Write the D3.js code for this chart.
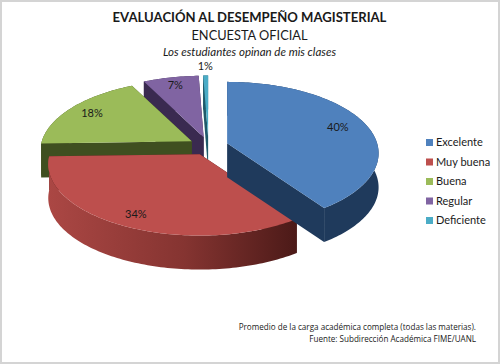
<!DOCTYPE html>
<html lang="en">
    <head>
        <meta charset="utf-8"/>
        <script src="https://d3js.org/d3.v7.min.js"></script>
        <style>
            body { margin: 0; background: #fff; }
            text { font-family: Lato, "Open Sans", sans-serif; fill: #1a1a1a; }
        </style>
    </head>
    <body>
        <div id="chart"></div>
    </body>
    <script>
        var categories = ["Excelente", "Muy buena", "Buena", "Regular", "Deficiente"];
        // the labels round them to 40, 34, 18, 7 and 1
        var values = [40.3, 34.2, 18.1, 6.8, 0.6];
        var topColors = ["#4f81bd", "#bd4f4d", "#9bbb59", "#8064a2", "#4bacc6"];
        var wallColors = ["#1f3a5c", "#6e2a28", "#3f4f20", "#3a2a50", "#1f5a6a"];
        var labelRadius = [0.8, 0.85, 0.82, 0.85, 1.17];

        var width = 500, height = 364;

        // pie geometry, with a bit of perspective so the front is bigger than the back
        var cx = 208.5, cy = 146, rx = 150, ry = 70, persp = 0.14, depth = 34, explode = 0.13;

        var svg = d3.select("#chart").append("svg")
            .attr("width", width)
            .attr("height", height);

        svg.append("rect")
            .attr("x", 1).attr("y", 1)
            .attr("width", width - 2).attr("height", height - 2)
            .attr("fill", "#fff")
            .attr("stroke", "#d4d4d4")
            .attr("stroke-width", 2);

        var color = d3.scaleOrdinal().domain(categories).range(topColors);
        var wall = d3.scaleOrdinal().domain(categories).range(wallColors);

        var slices = d3.pie().sort(null).value(function(d, i) { return values[i]; })(categories);

        function project(angle, r, ox, oy) {
            var u = Math.sin(angle) * r, v = -Math.cos(angle) * r;
            var s = 1 / (1 - persp * v);
            return [ox + rx * u * s, oy + ry * v * s];
        }

        function origin(d) {
            var mid = (d.startAngle + d.endAngle) / 2;
            return [cx + rx * explode * Math.sin(mid), cy - ry * explode * Math.cos(mid)];
        }

        function rim(d) {
            var o = origin(d);
            var n = Math.max(4, Math.ceil((d.endAngle - d.startAngle) / 0.02));
            return d3.range(n + 1).map(function(k) {
                return project(d.startAngle + (d.endAngle - d.startAngle) * k / n, 1, o[0], o[1]);
            });
        }

        function down(p) { return [p[0], p[1] + depth]; }

        var line = d3.line().curve(d3.curveLinear);
        var defs = svg.append("defs");

        // the red wall gets lighter towards the left, same as the picture
        var grad = defs.append("linearGradient")
            .attr("id", "redWall")
            .attr("gradientUnits", "userSpaceOnUse")
            .attr("x1", 48).attr("x2", 296).attr("y1", 0).attr("y2", 0);
        grad.append("stop").attr("offset", "0%").attr("stop-color", "#ab4744");
        grad.append("stop").attr("offset", "55%").attr("stop-color", "#853431");
        grad.append("stop").attr("offset", "100%").attr("stop-color", "#4c1a18");

        // back slices first, blue goes last because its wall sits over the red
        var order = [4, 3, 2, 1, 0];
        var pie = svg.append("g");

        order.forEach(function(i) {
            var d = slices[i];
            var o = origin(d);
            var edge = rim(d);
            var g = pie.append("g");
            var fillWall = i === 1 ? "url(#redWall)" : wall(d.data);

            [edge[0], edge[edge.length - 1]].forEach(function(p) {
                g.append("path")
                    .attr("d", line([o, p, down(p), down(o)]) + "Z")
                    .attr("fill", i === 1 ? "#4c1a18" : wall(d.data));
            });

            g.append("path")
                .attr("d", line(edge.concat(edge.map(down).reverse())) + "Z")
                .attr("fill", fillWall);

            g.append("path")
                .attr("d", line([o].concat(edge)) + "Z")
                .attr("fill", color(d.data));
        });

        // percentage labels
        svg.append("g").selectAll("text")
            .data(slices)
            .enter()
            .append("text")
                .attr("transform", function(d, i) {
                    var o = origin(d);
                    var p = project((d.startAngle + d.endAngle) / 2, labelRadius[i], o[0], o[1]);
                    return "translate(" + p[0] + "," + p[1] + ")";
                })
                .attr("text-anchor", "middle")
                .attr("dy", "0.35em")
                .style("font-size", "11px")
                .text(function(d) { return Math.round(d.value) + "%"; });

        // legend
        var legendY = d3.scalePoint().domain(categories).range([142.5, 220.5]);
        var legend = svg.append("g").selectAll("g")
            .data(categories)
            .enter()
            .append("g")
                .attr("transform", function(d) { return "translate(426," + legendY(d) + ")"; });
        legend.append("rect")
            .attr("y", -3.5)
            .attr("width", 7).attr("height", 7)
            .attr("fill", function(d) { return color(d); });
        legend.append("text")
            .attr("x", 10)
            .attr("dy", "0.35em")
            .style("font-size", "11px")
            .text(function(d) { return d; });

        // titles
        svg.append("text").attr("x", 249.5).attr("y", 22)
            .attr("text-anchor", "middle")
            .style("font-size", "13.1px").style("font-weight", "bold")
            .text("EVALUACIÓN AL DESEMPEÑO MAGISTERIAL");
        svg.append("text").attr("x", 249.5).attr("y", 40)
            .attr("text-anchor", "middle")
            .style("font-size", "12.8px")
            .text("ENCUESTA OFICIAL");
        svg.append("text").attr("x", 249.5).attr("y", 56)
            .attr("text-anchor", "middle")
            .style("font-size", "11.5px").style("font-style", "italic")
            .text("Los estudiantes opinan de mis clases");

        // footer
        svg.append("text").attr("x", 476).attr("y", 330)
            .attr("text-anchor", "end")
            .style("font-family", "'Open Sans'").style("font-size", "8.1px")
            .text("Promedio de la carga académica completa (todas las materias).");
        svg.append("text").attr("x", 476).attr("y", 342)
            .attr("text-anchor", "end")
            .style("font-family", "'Open Sans'").style("font-size", "8.1px")
            .text("Fuente: Subdirección Académica FIME/UANL");
    </script>
</html>
